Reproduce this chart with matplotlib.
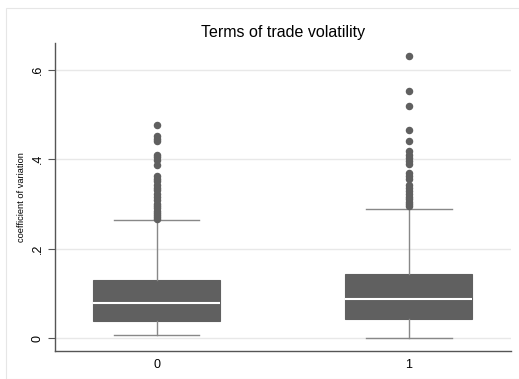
import matplotlib.pyplot as plt
from matplotlib.patches import Rectangle

plt.rcParams['font.family'] = ['Liberation Sans', 'DejaVu Sans']

# summary statistics of the coefficient of variation by group
groups = ['0', '1']
q1 = [0.038, 0.042]
medians = [0.078, 0.0865]
q3 = [0.1296, 0.1437]
whisk_lo = [0.0074, 0.0005]
whisk_hi = [0.264, 0.289]
outliers_0 = [0.476, 0.452, 0.446, 0.440, 0.410, 0.404, 0.397, 0.386, 0.362,
              0.355, 0.350, 0.343, 0.336, 0.330, 0.322, 0.315, 0.308, 0.300,
              0.295, 0.290, 0.285, 0.280, 0.275, 0.270, 0.267]
outliers_1 = [0.631, 0.553, 0.518, 0.464, 0.441, 0.418, 0.410, 0.402, 0.395,
              0.388, 0.369, 0.362, 0.356, 0.342, 0.335, 0.328, 0.322, 0.316,
              0.310, 0.305, 0.300, 0.296]
outliers = [outliers_0, outliers_1]

stats = []
for i in range(len(groups)):
    stats.append({'label': groups[i], 'q1': q1[i], 'med': medians[i],
                  'q3': q3[i], 'whislo': whisk_lo[i], 'whishi': whisk_hi[i],
                  'fliers': outliers[i]})

fig = plt.figure(figsize=(5.19, 3.79), dpi=100)
fig.patches.append(Rectangle((6 / 519, 0), 1, 1 - 8 / 379, transform=fig.transFigure,
                             fill=False, edgecolor='#e6e6e6', lw=0.8))
ax = fig.add_axes([55 / 519, 28 / 379, 456 / 519, 308 / 379])

box_col = '#606060'
line_col = '#888888'
ax.bxp(stats, positions=[0, 1], widths=0.503, patch_artist=True,
       boxprops=dict(facecolor=box_col, edgecolor=box_col, lw=0.8),
       medianprops=dict(color='white', lw=1.5),
       whiskerprops=dict(color=line_col, lw=1.0),
       capprops=dict(color=line_col, lw=1.0), capwidths=0.337,
       flierprops=dict(marker='o', markersize=4.4, markerfacecolor=box_col,
                       markeredgecolor=box_col), zorder=3)

ax.set_xlim(-0.402, 1.404)
ax.set_ylim(-0.029, 0.6595)
ax.set_yticks([0, 0.2, 0.4, 0.6])
ax.set_yticklabels(['0', '.2', '.4', '.6'], rotation=90, va='center', fontsize=9)
ax.set_xticks([0, 1])
ax.set_xticklabels(groups, fontsize=9)
ax.tick_params(axis='x', length=0, pad=6)
ax.tick_params(axis='y', length=5, width=0.8, color='#555555', pad=3)
ax.grid(axis='y', color='#e8e8e8', lw=1)
ax.set_axisbelow(True)

for side in ['top', 'right']:
    ax.spines[side].set_visible(False)
for side in ['left', 'bottom']:
    ax.spines[side].set_color('#555555')
    ax.spines[side].set_linewidth(1.0)

ax.set_ylabel('coefficient of variation', fontsize=6.7, labelpad=4)
ax.set_title('Terms of trade volatility', fontsize=11.5, pad=4)

fig.savefig('out.png', dpi=100)
